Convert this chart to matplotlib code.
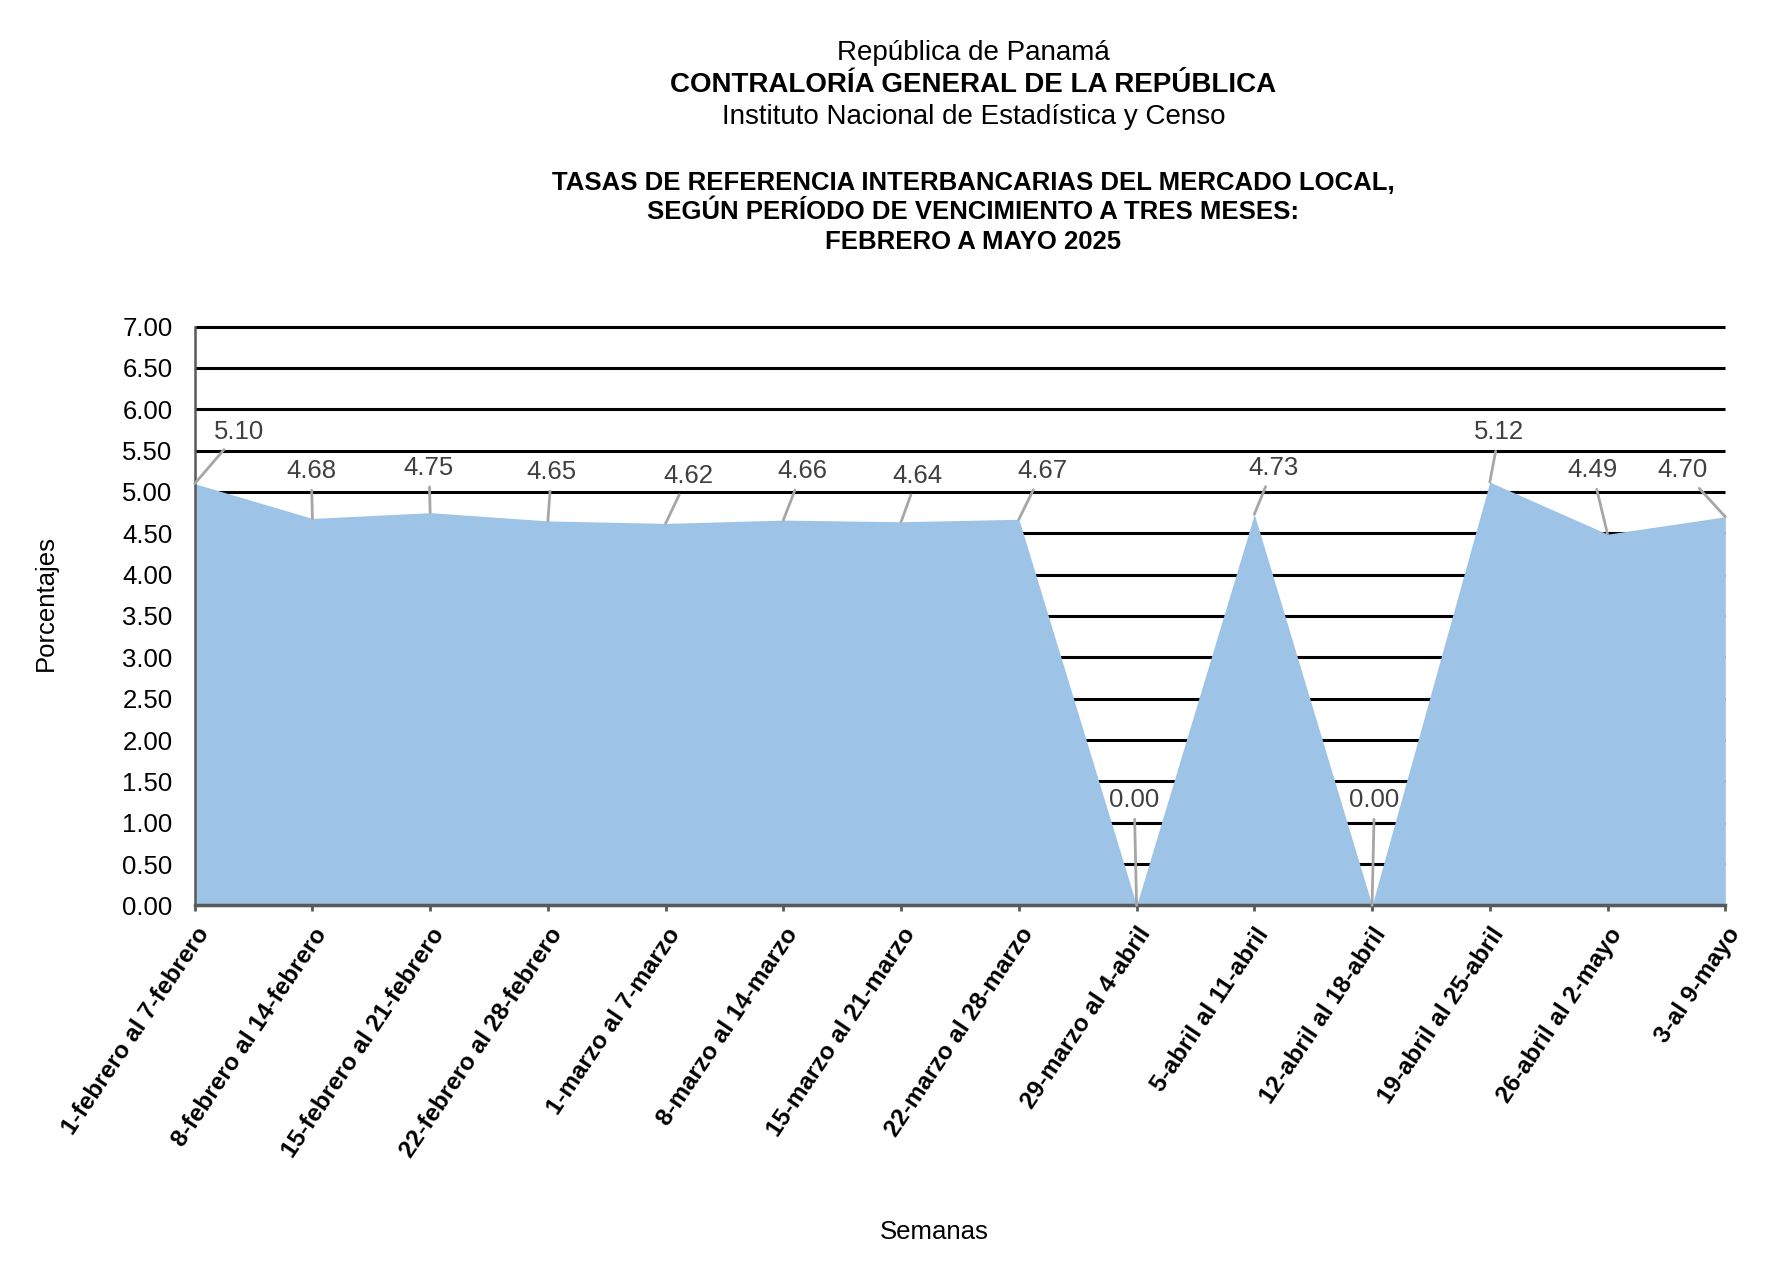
import matplotlib
matplotlib.use("Agg")
import matplotlib.pyplot as plt
import numpy as np

plt.rcParams['font.family'] = ['Liberation Sans', 'DejaVu Sans']

# Semanas (categorias del eje x)
SEMANAS = [
    '1-febrero al 7-febrero', '8-febrero al 14-febrero', '15-febrero al 21-febrero',
    '22-febrero al 28-febrero', '1-marzo al 7-marzo', '8-marzo al 14-marzo',
    '15-marzo al 21-marzo', '22-marzo al 28-marzo', '29-marzo al 4-abril',
    '5-abril al 11-abril', '12-abril al 18-abril', '19-abril al 25-abril',
    '26-abril al 2-mayo', '3-al 9-mayo',
]
# Tasa a tres meses (porcentajes)
TASAS = [5.10, 4.68, 4.75, 4.65, 4.62, 4.66, 4.64, 4.67, 0.00, 4.73, 0.00, 5.12, 4.49, 4.70]

# where each data label sits (data coords), like the moved Excel labels
LABEL_X = [0.38, 0.99, 1.99, 3.03, 4.19, 5.16, 6.14, 7.20, 7.98, 9.16, 10.02, 11.08, 11.87, 12.64]
LABEL_Y = [5.73, 5.25, 5.29, 5.24, 5.19, 5.25, 5.19, 5.25, 1.27, 5.29, 1.27, 5.72, 5.26, 5.26]

Y_TICKS = np.arange(0, 7.01, 0.5)

FILL = '#9DC3E6'
LEADER = '#A6A6A6'
AXIS_GRAY = '#595959'

fig = plt.figure(figsize=(17.86, 12.86), dpi=100)
ax = fig.add_axes([0.109, 0.296, 0.857, 0.450])

x = np.arange(len(TASAS))
ax.fill_between(x, TASAS, 0, color=FILL, linewidth=0, zorder=2)

ax.set_xlim(0, len(TASAS) - 1)
ax.set_ylim(0, 7)
ax.set_yticks(Y_TICKS)
ax.set_yticklabels([f'{v:.2f}' for v in Y_TICKS], fontsize=18.5)
ax.yaxis.grid(True, color='black', linewidth=2.2, zorder=1)
ax.set_axisbelow(True)
for gl in ax.get_ygridlines():
    gl.set_clip_on(False)
    gl.set_solid_capstyle('butt')

ax.set_xticks(x)
ax.set_xticklabels(SEMANAS, rotation=56, ha='right', va='top',
                   rotation_mode='anchor', fontsize=17.5, fontweight='bold')
ax.tick_params(axis='x', direction='out', length=4, width=2, color=AXIS_GRAY, pad=9)
ax.tick_params(axis='y', length=0, pad=16)

for s in ['top', 'right']:
    ax.spines[s].set_visible(False)
ax.spines['left'].set_color(AXIS_GRAY)
ax.spines['left'].set_linewidth(1.8)
ax.spines['bottom'].set_color(AXIS_GRAY)
ax.spines['bottom'].set_linewidth(2.5)
ax.spines['bottom'].set_zorder(3)

# data labels with leader lines
for xi, v, lx, ly in zip(x, TASAS, LABEL_X, LABEL_Y):
    ax.annotate(f'{v:.2f}', xy=(xi, v), xytext=(lx, ly), textcoords='data',
                ha='center', va='center', fontsize=18.5, color='#404040',
                arrowprops=dict(arrowstyle='-', color=LEADER, lw=2,
                                shrinkA=3, shrinkB=0),
                annotation_clip=False, zorder=4)

fig.text(0.0255, 0.531, 'Porcentajes', rotation=90, ha='center', va='center', fontsize=18.5)
fig.text(0.523, 0.042, 'Semanas', ha='center', va='center', fontsize=18.5)

cx = 0.545
fig.text(cx, 0.959, 'República de Panamá', ha='center', va='center', fontsize=20)
fig.text(cx, 0.934, 'CONTRALORÍA GENERAL DE LA REPÚBLICA', ha='center', va='center',
         fontsize=20, fontweight='bold')
fig.text(cx, 0.909, 'Instituto Nacional de Estadística y Censo', ha='center', va='center', fontsize=20)
fig.text(cx, 0.858, 'TASAS DE REFERENCIA INTERBANCARIAS DEL MERCADO LOCAL,', ha='center',
         va='center', fontsize=18.5, fontweight='bold')
fig.text(cx, 0.835, 'SEGÚN PERÍODO DE VENCIMIENTO A TRES MESES:', ha='center',
         va='center', fontsize=18.5, fontweight='bold')
fig.text(cx, 0.812, 'FEBRERO A MAYO 2025', ha='center', va='center', fontsize=18.5, fontweight='bold')

fig.savefig('out.png', dpi=100)
